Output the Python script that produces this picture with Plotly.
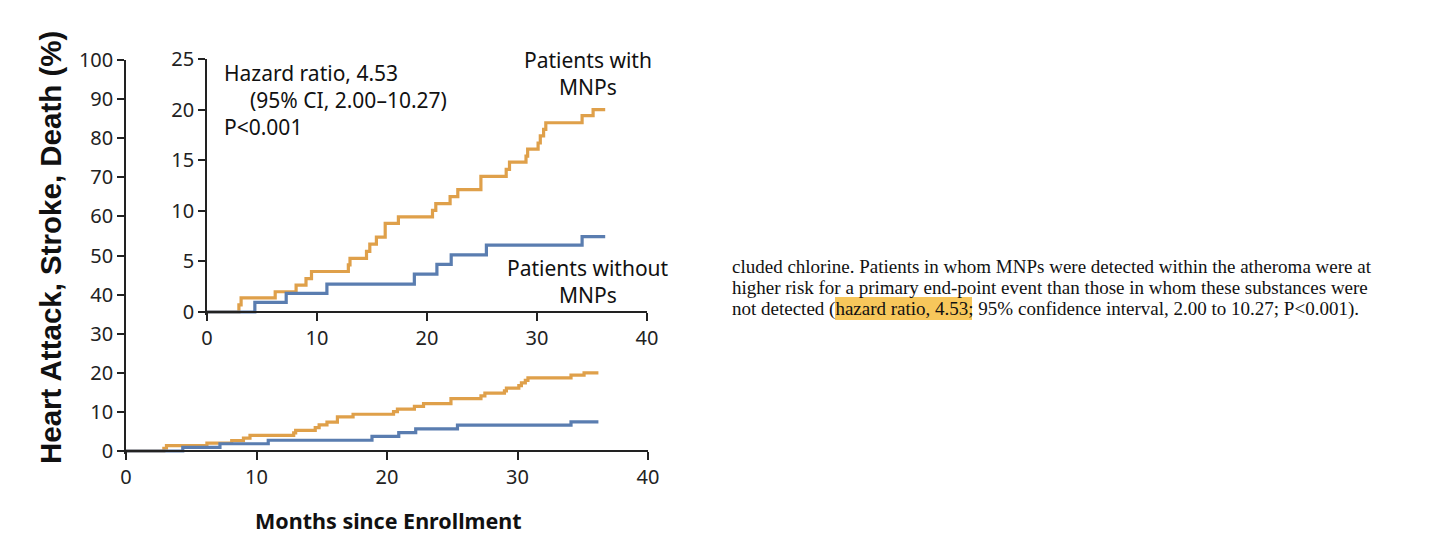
import plotly.graph_objects as go

# ---------------- data ----------------
orange_months = [0, 2.9, 3.1, 6.2, 8.1, 9.0, 9.5, 12.85, 13.0, 14.5, 14.8, 15.4, 16.2, 17.4,
                 20.5, 20.8, 22.1, 22.8, 24.9, 27.2, 27.5, 29.0, 29.15, 30.1, 30.3, 30.6, 30.8,
                 34.1, 35.1, 36.2]
orange_pct = [0, 0.7, 1.4, 2.0, 2.65, 3.3, 4.0, 4.65, 5.3, 6.0, 6.7, 7.4, 8.75, 9.4,
              10.05, 10.7, 11.4, 12.1, 13.4, 14.1, 14.8, 15.4, 16.1, 16.7, 17.4, 18.05, 18.7,
              19.4, 20.0, 20.0]
blue_months = [0, 4.35, 7.2, 10.9, 18.85, 20.9, 22.2, 25.4, 34.1, 36.2]
blue_pct = [0, 0.95, 1.85, 2.75, 3.75, 4.7, 5.65, 6.6, 7.45, 7.45]

main_y_ticks = [0, 10, 20, 30, 40, 50, 60, 70, 80, 90, 100]
inset_y_ticks = [0, 5, 10, 15, 20, 25]
x_ticks = [0, 10, 20, 30, 40]

paragraph_lines = [
    "cluded chlorine. Patients in whom MNPs were detected within the atheroma were at",
    "higher risk for a primary end-point event than those in whom these substances were",
    "not detected (hazard ratio, 4.53; 95% confidence interval, 2.00 to 10.27; P<0.001).",
]

# ---------------- style ----------------
W, H = 1429, 558
OFF = 8  # page body margin offset of the rendered figure
ORANGE = "#DFA04A"
BLUE = "#5A7DB0"
AX = "#222222"
TICKFONT = dict(family="Noto Sans", size=20, color=AX)


def px(x):
    return (x - OFF) / W


def py(y):
    return (H - (y - OFF)) / H


fig = go.Figure()

for xa, ya in (("x", "y"), ("x2", "y2")):
    fig.add_trace(go.Scatter(x=orange_months, y=orange_pct, mode="lines", line_shape="hv",
                             line=dict(color=ORANGE, width=3.2), xaxis=xa, yaxis=ya,
                             showlegend=False, hoverinfo="skip"))
    fig.add_trace(go.Scatter(x=blue_months, y=blue_pct, mode="lines", line_shape="hv",
                             line=dict(color=BLUE, width=3.2), xaxis=xa, yaxis=ya,
                             showlegend=False, hoverinfo="skip"))


def axis(**kw):
    base = dict(showgrid=False, zeroline=False, showline=True, linecolor=AX, linewidth=1.5,
                ticks="outside", ticklen=8, tickwidth=1.5, tickcolor=AX, tickfont=TICKFONT,
                automargin=False)
    base.update(kw)
    return base


main_lo = -0.8
main_px_per = (451 - 60) / 100
inset_lo = -0.3
inset_px_per = (312 - 59) / 25

fig.update_layout(
    width=W, height=H, margin=dict(l=0, r=0, t=0, b=0, autoexpand=False),
    paper_bgcolor="white", plot_bgcolor="rgba(0,0,0,0)",
    xaxis=axis(domain=[px(126), px(648)], range=[0, 40], tickvals=x_ticks,
               anchor="free", position=py(451)),
    yaxis=axis(domain=[py(451 - main_lo * main_px_per), py(60)], range=[main_lo, 100],
               tickvals=main_y_ticks, anchor="x", ticklen=7),
    xaxis2=axis(domain=[px(207), px(647)], range=[0, 40], tickvals=x_ticks,
                anchor="free", position=py(312)),
    yaxis2=axis(domain=[py(312 - inset_lo * inset_px_per), py(59)], range=[inset_lo, 25],
                tickvals=inset_y_ticks, anchor="x2", ticklen=7),
)

ann = []


def text(t, x, y, size=21, family="Noto Sans", xanchor="left", weight="normal", angle=0):
    ann.append(dict(text=t, x=px(x), y=py(y), xref="paper", yref="paper", showarrow=False,
                    xanchor=xanchor, yanchor="middle", textangle=angle,
                    font=dict(family=family, size=size, color="#111111", weight=weight)))


text("Hazard ratio, 4.53", 222, 73)
text("(95% CI, 2.00\u201310.27)", 248, 100)
text("P<0.001", 222, 127)
text("Patients with", 588, 60, xanchor="center")
text("MNPs", 588, 87, xanchor="center")
text("Patients without", 588, 268, xanchor="center")
text("MNPs", 588, 295, xanchor="center")

text("Months since Enrollment", 388, 520, size=21.5, xanchor="center", weight="bold")
text("Heart Attack, Stroke, Death (%)", 51, 248, size=29.5, family="Liberation Sans",
     xanchor="center", weight="bold", angle=-90)

for i, line in enumerate(paragraph_lines):
    text(line, 730, 266 + 21.5 * i, size=19, family="Liberation Serif")

fig.update_layout(annotations=ann)

# highlight behind "hazard ratio, 4.53"
fig.add_shape(type="rect", xref="paper", yref="paper", x0=px(835), x1=px(972),
              y0=py(320), y1=py(297), fillcolor="#F7C75B", line=dict(width=0), layer="below")

fig.write_html("out.html")
